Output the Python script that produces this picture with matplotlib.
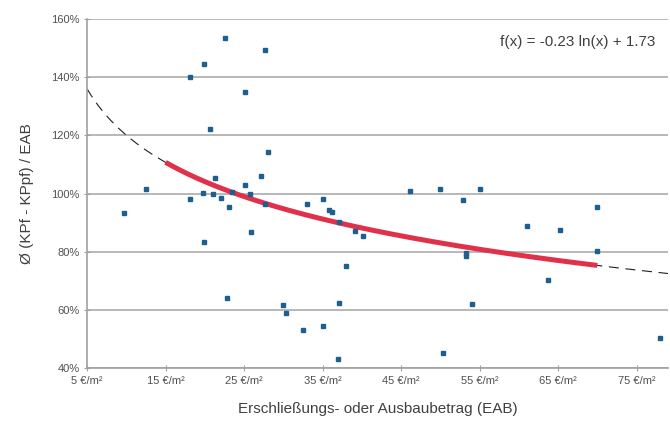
import numpy as np
import matplotlib
matplotlib.use("Agg")
from matplotlib import pyplot as plt
from matplotlib.ticker import FuncFormatter, MultipleLocator

plt.rcParams['font.family'] = ['Liberation Sans', 'DejaVu Sans']

# EAB in EUR/m2 and ratio (KPf - KPpf) / EAB
eab = [9.7, 12.5, 18.1, 19.9, 22.6, 27.6, 25.1, 20.6, 28.1,
       21.3, 27.1, 25.1, 18.1, 19.8, 21.1, 22.1, 23.4, 23.1, 25.8, 27.6,
       25.9, 19.9, 22.8,
       33.0, 35.1, 35.8, 36.2, 37.1, 39.1, 40.1, 38.0, 46.1, 50.0, 52.9,
       53.3, 53.3, 37.1, 30.0, 30.4, 32.5, 35.1, 37.0, 50.4,
       55.1, 54.0, 61.0, 65.3, 63.7, 70.0, 70.0, 78.0]
ratio = [0.934, 1.017, 1.399, 1.445, 1.534, 1.494, 1.349, 1.223, 1.144,
         1.052, 1.060, 1.028, 0.982, 1.002, 1.000, 0.986, 1.005, 0.953, 1.000, 0.964,
         0.867, 0.832, 0.642,
         0.964, 0.982, 0.943, 0.936, 0.901, 0.870, 0.855, 0.752, 1.008, 1.014, 0.977,
         0.784, 0.795, 0.623, 0.617, 0.591, 0.531, 0.545, 0.431, 0.453,
         1.014, 0.621, 0.887, 0.873, 0.703, 0.953, 0.804, 0.502]
x_ticks = [5, 15, 25, 35, 45, 55, 65, 75]

coef_a = -0.23
coef_b = 1.73
fit_range = (15, 70)
x_range = (5, 79)

fig = plt.figure(figsize=(6.7, 4.32), dpi=100)
ax = fig.add_axes([0.130, 0.148, 0.867, 0.808])

# trend lines
xs = np.linspace(x_range[0], x_range[1], 300)
ax.plot(xs, coef_a*np.log(xs) + coef_b, color='#202020', lw=0.8,
        dashes=(9, 6), zorder=2)
xf = np.linspace(fit_range[0], fit_range[1], 200)
ax.plot(xf, coef_a*np.log(xf) + coef_b, color='#e0304a', lw=3.6,
        solid_capstyle='butt', zorder=3)

# data points
ax.plot(eab, ratio, 's', color='#1f5f8e', ms=3.5, mec='#1f5f8e', zorder=4)

ax.set_xticks(x_ticks)
ax.set_xlim(*x_range)
ax.set_ylim(0.4, 1.6)
ax.yaxis.set_major_locator(MultipleLocator(0.2))
ax.xaxis.set_major_formatter(FuncFormatter(lambda v, p: f"{v:.0f} €/m²"))
ax.yaxis.set_major_formatter(FuncFormatter(lambda v, p: f"{v*100:.0f}%"))
ax.grid(axis='y', color='#b8b8b8', lw=1.4)
ax.set_axisbelow(True)
for s in ['top', 'right']:
    ax.spines[s].set_visible(False)
for s in ['left', 'bottom']:
    ax.spines[s].set_color('#a0a0a0')
    ax.spines[s].set_linewidth(1.2)
ax.tick_params(axis='both', colors='#a0a0a0', labelcolor='#505050',
               labelsize=8, length=4, direction='inout')

ax.set_xlabel("Erschließungs- oder Ausbaubetrag (EAB)", fontsize=11,
              color='#404040', labelpad=12)
ax.set_ylabel("Ø (KPf - KPpf) / EAB", fontsize=11, color='#404040',
              labelpad=12)
ax.text(0.845, 0.935, "f(x) = -0.23 ln(x) + 1.73", transform=ax.transAxes,
        ha='center', va='center', fontsize=11, color='#404040')

fig.savefig("out.png", dpi=100)
